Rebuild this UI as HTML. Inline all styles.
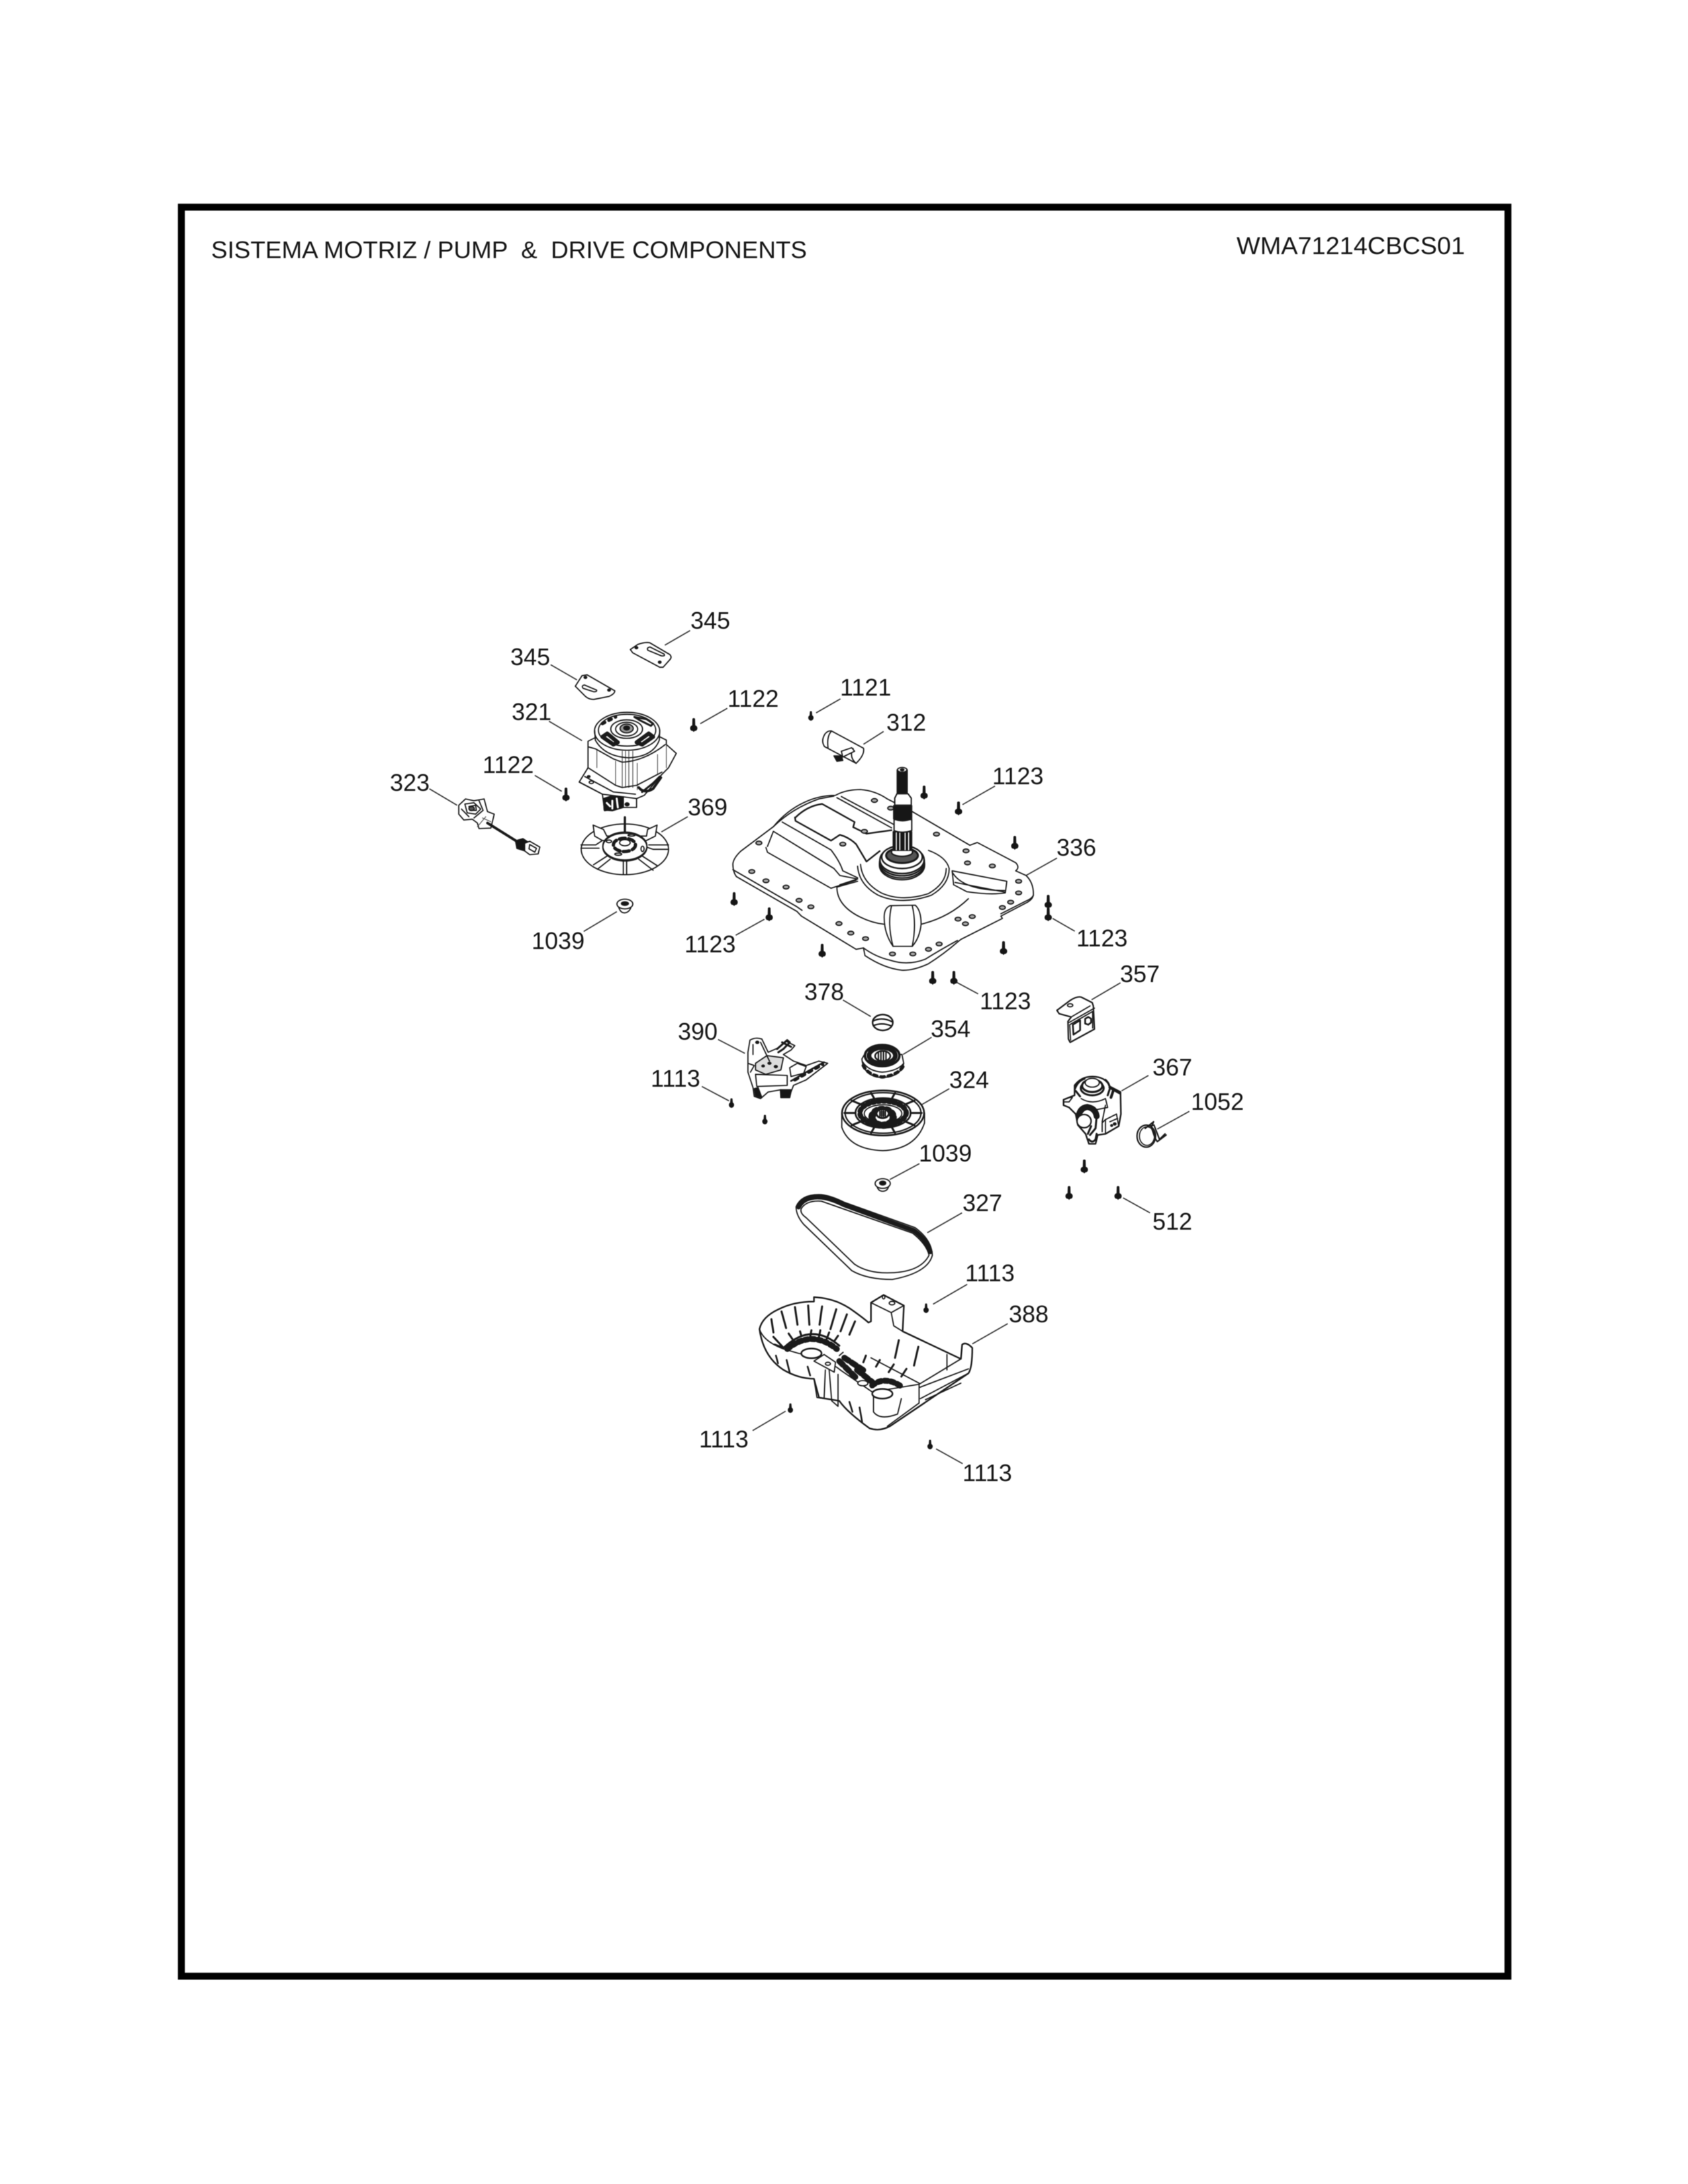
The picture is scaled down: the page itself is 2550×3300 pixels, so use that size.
<!DOCTYPE html>
<html><head><meta charset="utf-8"><style>
html,body{margin:0;padding:0;background:#fff;width:2550px;height:3300px;overflow:hidden}
svg{display:block;filter:blur(.55px)}
svg *{vector-effect:non-scaling-stroke}
text{font-family:"Liberation Sans",Arial,sans-serif;fill:#151515;stroke:none;white-space:pre}
.l text{font-size:36px}
.d path,.d ellipse,.d rect,.d circle,.d polygon{fill:none;stroke:#1a1a1a;stroke-width:1.8;stroke-linejoin:round;stroke-linecap:round}
.d .w{fill:#fff}
.d .k{fill:#161616}
.d .g{fill:#999}
.d .h{stroke-width:3.4}
.d .t{stroke-width:1.1;stroke:#444}
.ld path{fill:none;stroke:#333;stroke-width:1.7}
</style></head><body>
<svg width="2550" height="3300" viewBox="0 0 2550 3300" xmlns="http://www.w3.org/2000/svg">
<defs>
<path id="s" d="M-2,-10 Q0,-12 2,-10 L2.3,0 Q5.5,1 5.5,4.5 Q5.5,8 1.5,8.5 L0,10 L-1.5,8.5 Q-5.5,8 -5.5,4.5 Q-5.5,1 -2.3,0Z" fill="#151515"/>
<path id="ss" d="M-1.5,-7 Q0,-8 1.5,-7 L2,-1 Q4,0 4,2.5 Q4,6 0,7 Q-4,6 -4,2.5 Q-4,0 -2,-1Z" fill="#151515"/>
<ellipse id="ho" rx="10" ry="8" style="fill:#aaa;stroke:#1a1a1a;stroke-width:1.8"/>
</defs>
<rect width="2550" height="3300" fill="#fff"/>
<!-- frame -->
<rect x="274" y="313" width="2004" height="2673" fill="none" stroke="#000" stroke-width="10.5"/>
<text x="319" y="390" font-size="36" textLength="900" lengthAdjust="spacingAndGlyphs">SISTEMA MOTRIZ / PUMP  &amp;  DRIVE COMPONENTS</text>
<text x="1868" y="384" font-size="37.5" textLength="345" lengthAdjust="spacingAndGlyphs">WMA71214CBCS01</text>

<!-- labels -->
<g class="l">
<text x="1043" y="950">345</text><text x="771" y="1005">345</text><text x="773" y="1088">321</text>
<text x="1099" y="1068">1122</text><text x="1269" y="1051">1121</text><text x="729" y="1168">1122</text>
<text x="589" y="1195">323</text><text x="1039" y="1232">369</text><text x="803" y="1434">1039</text>
<text x="1034" y="1439">1123</text><text x="1339" y="1104">312</text><text x="1499" y="1185">1123</text>
<text x="1596" y="1293">336</text><text x="1626" y="1430">1123</text><text x="1480" y="1525">1123</text>
<text x="1692" y="1484">357</text><text x="1215" y="1511">378</text><text x="1406" y="1567">354</text>
<text x="1024" y="1571">390</text><text x="1434" y="1644">324</text><text x="983" y="1642">1113</text>
<text x="1388" y="1755">1039</text><text x="1454" y="1830">327</text><text x="1741" y="1625">367</text>
<text x="1799" y="1677">1052</text><text x="1741" y="1858">512</text><text x="1458" y="1936">1113</text>
<text x="1524" y="1998">388</text><text x="1056" y="2187">1113</text><text x="1454" y="2238">1113</text>
</g>

<!-- screws -->
<g>
<use href="#s" x="1048" y="1096"/><use href="#s" x="855" y="1201"/>
<use href="#s" x="1396" y="1198"/><use href="#s" x="1448" y="1222"/><use href="#s" x="1533" y="1274"/>
<use href="#s" x="1583.5" y="1363"/><use href="#s" x="1583.5" y="1382"/><use href="#s" x="1516" y="1433"/>
<use href="#s" x="1441" y="1478"/><use href="#s" x="1409" y="1478"/><use href="#s" x="1242" y="1437"/>
<use href="#s" x="1162" y="1382"/><use href="#s" x="1109" y="1359"/>
<use href="#s" x="1638" y="1763"/><use href="#s" x="1615" y="1803"/><use href="#s" x="1689" y="1803"/>
<use href="#ss" x="1105" y="1667"/><use href="#ss" x="1155.5" y="1692"/><use href="#ss" x="1399" y="1977"/>
<use href="#ss" x="1194" y="2128"/><use href="#ss" x="1405" y="2183"/><use href="#ss" x="1225" y="1082"/>
</g>

<!-- crop-1 space -->
<g transform="translate(540,880) scale(.5102,.3827)">
<g class="ld"><path d="M985,190 L910,248M572,325 L650,385M567,548 L665,625M1095,497 L1015,558M1430,460 L1358,515M525,762 L605,825M213,815 L295,880M978,925 L900,985M768,1300 L670,1378M1205,1330 L1120,1393"/></g>
<g class="d">
<path class="w" d="M808,265 L830,245 Q850,235 865,238 L925,285 Q932,295 925,305 L905,335 L895,335 L815,278Z"/>
<path d="M866,255 L908,283 Q912,292 900,290 L860,268 Q855,258 866,255Z"/><ellipse cx="826" cy="258" rx="4" ry="4" class="k"/><ellipse cx="895" cy="315" rx="4" ry="4" class="k"/>
<path class="w" d="M645,410 L665,368 L680,365 L762,428 Q762,440 745,450 L700,462 Q685,462 675,450Z"/>
<path d="M672,405 L708,425 Q710,432 700,432 L668,418 Q662,408 672,405Z"/><ellipse cx="675" cy="375" rx="4" ry="4" class="k"/><ellipse cx="745" cy="425" rx="4" ry="4" class="k"/>
<!-- 323 harness -->
<path class="w" d="M300,880 L320,855 L345,862 L375,855 L385,905 L405,915 L395,970 L360,972 L355,950 L340,935 L315,938 L300,915Z"/>
<path d="M318,875 L345,870 L365,895 L350,915 L325,910Z M330,885 L350,880 L352,900 L333,900Z M308,895 L330,925 M360,862 L372,900 L345,930"/>
<path class="t" d="M370,930 L395,945M355,965 L380,925"/>
<ellipse class="g" style="fill:#555" cx="338" cy="893" rx="8" ry="8"/>
<path class="h" style="stroke-width:4" d="M385,950 L475,1025"/>
<path class="k" d="M468,1020 L490,1012 L505,1025 L495,1060 L472,1050Z"/>
<path class="w" d="M495,1030 L510,1022 L540,1045 L535,1072 L510,1075 L495,1060Z"/>
<path d="M510,1035 L530,1050 L525,1065 L508,1052Z"/>
</g>
</g>

<!-- motor + fan + nut -->
<g transform="translate(830,1050) scale(.3333)"><g class="d">
<path class="w" d="M175,210 L205,195 L500,190 L530,205 L530,225 L575,265 L540,330 L510,360 L430,455 L395,470 L395,510 L330,510 L250,525 L240,450 L135,395 L175,330Z"/>
<path class="t" d="M215,250 L215,330M300,300 L300,410M330,255 L330,420M345,255 L345,420M360,255 L360,420M378,255 L378,420M398,310 L398,430M490,270 L490,360M530,225 L530,330"/>
<path d="M175,235 L210,245 L290,290 L330,305 Q430,300 525,225"/>
<path d="M175,330 L300,410 L330,420 L395,410 L510,350"/>
<path d="M135,395 L240,450 L395,470 M160,370 L290,440 L390,450"/>
<ellipse class="k" cx="178" cy="370" rx="6" ry="4"/><ellipse cx="190" cy="396" rx="10" ry="6"/>
<path class="k" d="M245,470 L275,460 L335,462 L335,510 L285,525 L248,522Z"/>
<path style="stroke:#fff;stroke-width:3" d="M285,480 L285,515M305,470 L310,510M260,490 L275,505"/>
<ellipse class="k" cx="352" cy="496" rx="9" ry="7"/>
<path style="stroke-width:4" d="M405,420 Q430,450 470,425 L505,375"/>
<path style="stroke-width:3" d="M420,440 L470,400 L500,370"/>
<ellipse class="w" cx="352" cy="165" rx="148" ry="86"/>
<path d="M205,160 L208,205 Q250,280 360,285 Q470,280 498,205 L500,160"/>
<ellipse cx="352" cy="160" rx="130" ry="72"/>
<ellipse cx="350" cy="155" rx="72" ry="42"/><ellipse cx="350" cy="155" rx="50" ry="31"/>
<ellipse class="g" cx="350" cy="152" rx="30" ry="20"/><ellipse class="k" cx="350" cy="150" rx="13" ry="9"/>
<path style="stroke-width:6" d="M240,190 L262,175 L310,215 L290,225ZM395,215 L450,175 L470,190 L420,225Z"/>
<path style="stroke-width:5;stroke-dasharray:4 7" d="M240,130 L300,100"/>
<path style="stroke-width:3" d="M385,100 L440,110 L470,130 L460,140 L410,115Z"/>
<!-- fan -->
<ellipse class="w" cx="342" cy="700" rx="198" ry="115"/>
<path class="w" d="M198,590 L245,610 L260,640 L440,640 L445,610 L488,590 L480,640 L440,660 L240,660 L205,640Z" style="stroke:#1a1a1a"/>
<path d="M143,680 L210,680 L240,660M143,695 L225,695 M450,680 L540,680M440,690 L470,700 L538,700"/>
<path class="h" d="M342,555 L342,625"/>
<path d="M335,745 L335,812M350,745 L350,812M200,770 L262,730 M218,790 L275,745 M490,775 L420,730M470,795 L405,745"/>
<ellipse class="w" cx="342" cy="685" rx="100" ry="63"/>
<ellipse cx="342" cy="690" rx="100" ry="63"/>
<ellipse class="w" cx="340" cy="680" rx="50" ry="30" style="stroke-width:5;stroke-dasharray:9 5"/>
<ellipse class="w" cx="342" cy="670" rx="24" ry="14"/>
<ellipse cx="270" cy="664" rx="12" ry="6"/><ellipse cx="422" cy="698" rx="7" ry="12"/><ellipse cx="312" cy="722" rx="16" ry="5"/><ellipse cx="372" cy="636" rx="16" ry="4"/>
<!-- nut -->
<path class="w" d="M312,955 Q320,990 342,988 Q365,985 372,955Z"/>
<ellipse class="w" cx="342" cy="948" rx="36" ry="22"/><ellipse class="k" cx="342" cy="946" rx="16" ry="8"/>
</g>
</g>

<!-- plate 336 -->
<g transform="translate(1050,1000) scale(.4464,.3509)">
<g class="ld"><path d="M638,300 L570,355M1015,535 L905,615M1225,845 L1120,920M1285,1160 L1210,1105M958,1430 L885,1380"/></g>
<g class="d">
<!-- capacitor -->
<path class="w" d="M462,298 L570,372 Q575,400 545,437 L438,365 Q425,340 440,310 Q450,295 462,298Z"/>
<path d="M462,298 Q445,320 450,370M535,373 Q520,410 545,437"/>
<path class="w" d="M495,385 L530,370 L540,385 L500,410Z"/>
<path class="k" d="M470,405 L495,405 L500,425 L480,428Z"/>
<!-- plate -->
<path class="w" d="M128,870 Q130,845 155,815 L265,710 Q310,640 370,605 Q420,575 475,575 Q510,550 560,550 Q610,555 650,590 L735,645 L930,790 L955,778 L1085,865 Q1100,885 1085,900 L1120,920 Q1145,950 1145,1000 Q1145,1020 1125,1035 L1035,1095 L1040,1105 L900,1195 L890,1205 Q840,1260 790,1300 Q740,1330 700,1328 Q640,1320 575,1265 L570,1232 L545,1238 L360,1095 L345,1075 L140,925 Q128,905 128,870Z"/>
<path d="M128,895 L345,1055 L362,1070M1145,1005 Q1140,1020 1120,1030 L1035,1085M888,1200 Q830,1240 780,1280 Q720,1310 660,1285 Q610,1270 570,1232"/>
<path d="M245,795 L265,730 L470,890 L490,920 L550,935"/>
<path d="M240,800 L245,820 L460,975 L545,940"/>
<path d="M295,690 L460,810 Q490,860 500,900 L550,930"/>
<path class="h" style="stroke-width:2.4" d="M338,670 L340,685 L460,770 L490,745 Q520,755 545,785 L580,860 L625,815"/>
<path class="h" style="stroke-width:2.4" d="M340,670 Q380,620 430,612 L540,690 L535,712 L580,740 L665,725"/>
<path d="M480,585 L665,715M495,580 L672,700M265,710 Q330,630 420,590 L470,578"/>
<!-- centre dish -->
<path d="M550,880 Q555,960 620,1005 Q700,1050 800,1005 Q860,960 860,890 Q850,840 790,812"/>
<path d="M560,872 Q565,950 630,995 Q700,1035 790,998 Q850,955 850,890"/>
<path d="M480,970 Q480,1050 560,1100 Q600,1125 640,1130M765,1130 Q860,1100 925,1020M480,970 L550,945M490,960 L550,935"/>
<path d="M870,900 L1055,945 L1050,995 Q1000,1005 920,990 L875,960Z M880,950 L1050,992 M870,905 Q905,985 1050,985"/>
<path class="w" d="M640,1100 Q640,1060 660,1050 L745,1048 Q765,1070 765,1130 Q760,1190 735,1225 L670,1225 Q640,1170 640,1100Z"/>
<path d="M665,1050 Q650,1130 670,1225M735,1050 Q750,1130 735,1225"/>
<!-- upper rod -->
<rect class="k" x="684" y="465" width="34" height="125"/>
<ellipse class="w" cx="701" cy="465" rx="16" ry="10"/><ellipse class="k" cx="701" cy="465" rx="6" ry="4"/>
</g>
<g>
<use href="#ho" x="607" y="597"/><use href="#ho" x="662" y="630"/><use href="#ho" x="573" y="730"/><use href="#ho" x="500" y="785"/><use href="#ho" x="817" y="742"/><use href="#ho" x="917" y="814"/><use href="#ho" x="922" y="866"/><use href="#ho" x="1006" y="879"/><use href="#ho" x="1095" y="945"/><use href="#ho" x="1095" y="995"/><use href="#ho" x="1068" y="1035"/><use href="#ho" x="1040" y="1058"/><use href="#ho" x="938" y="1097"/><use href="#ho" x="915" y="1128"/><use href="#ho" x="890" y="1108"/><use href="#ho" x="826" y="1215"/><use href="#ho" x="790" y="1238"/><use href="#ho" x="737" y="1258"/><use href="#ho" x="668" y="1258"/><use href="#ho" x="577" y="1192"/><use href="#ho" x="527" y="1168"/><use href="#ho" x="487" y="1127"/><use href="#ho" x="392" y="1055"/><use href="#ho" x="352" y="1027"/><use href="#ho" x="308" y="970"/><use href="#ho" x="240" y="943"/><use href="#ho" x="192" y="903"/><use href="#ho" x="216" y="780"/>
</g>
</g>

<!-- shaft and rings -->
<g transform="translate(1240,1200) scale(.3333)"><g class="d">
<ellipse class="w" cx="368" cy="322" rx="102" ry="66" style="stroke-width:2.2"/>
<ellipse class="w" cx="368" cy="314" rx="102" ry="66" style="stroke-width:2.2"/>
<ellipse class="w" cx="368" cy="306" rx="101" ry="64" style="stroke-width:2.4"/>
<ellipse class="w" cx="368" cy="298" rx="100" ry="62" style="stroke-width:2.4"/>
<ellipse class="w" cx="368" cy="285" rx="92" ry="52" style="stroke-width:2.4"/>
<ellipse class="g" style="fill:#555;stroke-width:3" cx="368" cy="278" rx="72" ry="34"/>
<ellipse class="w" cx="368" cy="262" rx="48" ry="20" style="stroke-width:2.2"/>
<rect class="k" x="328" y="170" width="84" height="85"/>
<path style="stroke:#fff;stroke-width:1.6" d="M342,175 L342,252M358,175 L358,252M382,175 L382,252M398,175 L398,252"/>
<path class="w" d="M332,115 L412,115 L412,165 Q370,180 332,165Z" style="stroke-width:2"/>
<path class="k" d="M330,52 L412,52 L412,112 Q370,130 330,112Z"/>
<path class="w" d="M335,18 L345,-2 L395,-2 L410,18 L410,50 L335,50Z" style="stroke-width:2"/>
</g></g>

<!-- crop 3 parts -->
<g transform="translate(950,1450) scale(.3827,.3333)">
<g class="ld"><path d="M845,183 L955,258M1195,352 L1082,430M352,362 L458,425M288,575 L395,640M1265,585 L1155,658M1147,925 L1030,997M1315,1148 L1178,1238"/></g>
<g class="d">
<!-- 378 -->
<ellipse cx="1002" cy="285" rx="40" ry="36" style="stroke-width:2.4"/><path style="stroke-width:2.2" d="M965,278 Q1000,258 1040,282M968,298 Q1000,284 1035,300"/>
<!-- 354 -->
<path class="w" d="M920,450 Q925,530 1000,535 Q1075,530 1085,470 L1078,430 L930,430Z"/>
<path d="M922,462 Q945,505 1000,510 Q1060,505 1085,470"/>
<path style="stroke-width:5;stroke-dasharray:5 6" d="M925,480 Q945,525 1000,532 Q1060,525 1082,485"/>
<ellipse class="w" cx="1000" cy="435" rx="68" ry="48" style="stroke-width:3.6"/>
<ellipse cx="1000" cy="435" rx="52" ry="36" style="stroke-width:7;stroke-dasharray:5 3"/>
<ellipse class="w" cx="1002" cy="437" rx="30" ry="23" style="stroke-width:2.5"/>
<path style="stroke-width:2.2" d="M985,420 L985,455M995,417 L995,460M1005,417 L1005,460M1015,420 L1015,455"/>
<!-- 327 belt -->
<path class="w" d="M660,1120 Q680,1065 750,1065 Q790,1065 850,1100 L1130,1215 Q1195,1270 1198,1340 Q1180,1420 1040,1450 Q940,1450 880,1410 L690,1200 Q660,1160 660,1120Z"/>
<path class="w" d="M680,1130 Q700,1090 760,1095 L1120,1240 Q1175,1290 1185,1340 Q1150,1420 1020,1420 Q940,1420 890,1380 L700,1170 Q675,1150 680,1130Z"/>
<path style="stroke-width:7;fill:none" d="M670,1122 Q690,1075 750,1077 Q790,1077 850,1112 L1125,1228 Q1175,1270 1190,1325"/>
<!-- 1039 nut -->
<path class="w" d="M980,1030 Q985,1050 1002,1050 Q1020,1050 1025,1030Z"/>
<ellipse class="w" cx="1002" cy="1015" rx="30" ry="22"/><ellipse class="k" cx="1002" cy="1013" rx="12" ry="9"/>
<!-- 390 -->
<path class="w" d="M470,420 L478,365 Q500,350 525,360 L550,420 L590,400 L620,370 L655,390 L640,410 L610,430 L650,460 L700,480 L750,460 L785,470 L700,545 L650,570 L640,600 L635,625 L600,625 L600,590 L550,600 L520,630 L495,620 L490,580 L470,510Z"/>
<path style="stroke-width:3" d="M585,405 L625,365 L635,375 L610,405 L590,420 M605,375 L640,395"/>
<path style="stroke-width:2.6" d="M640,550 L700,510 L770,465"/>
<path style="stroke-width:5;stroke-dasharray:5 7" d="M655,545 L765,475"/>
<path style="fill:#ddd" d="M500,470 L545,435 L610,445 L600,500 L540,520 L500,500Z"/>
<path class="k" d="M495,585 L510,580 L525,625 L500,620Z M598,590 L640,590 L635,625 L600,625Z"/>
<path class="w" d="M500,520 L625,525 L625,570 L505,575Z"/>
<path class="w" d="M635,490 L665,470 L700,485 L690,515 L640,530Z"/>
<path d="M470,470 L495,480 L480,510 M520,375 L555,460 M490,385 L490,430"/>
<ellipse class="k" cx="507" cy="375" rx="6" ry="5"/><ellipse class="k" cx="555" cy="470" rx="6" ry="4"/><ellipse class="k" cx="580" cy="485" rx="6" ry="5"/><ellipse class="k" cx="530" cy="482" rx="5" ry="4"/>
</g></g>

<!-- 324 pulley -->
<g transform="translate(1240,1580) scale(.3333)"><g class="d">
<path class="w" d="M95,305 L95,370 Q130,470 280,476 Q430,470 470,350 L470,305Z"/>
<ellipse class="w" cx="282" cy="305" rx="186" ry="102" style="stroke-width:2.6"/>
<ellipse cx="282" cy="305" rx="172" ry="92" style="stroke-width:2.2"/>
<path style="stroke-width:3" d="M407,305 L457,305M383,344 L424,361M321,369 L336,395M243,369 L228,395M181,344 L140,361M157,305 L107,305M181,266 L140,249M243,241 L228,215M321,241 L336,215M383,266 L424,249"/>
<ellipse cx="282" cy="305" rx="125" ry="67" style="stroke-width:2.6"/>
<ellipse cx="282" cy="305" rx="105" ry="54" style="stroke-width:8;stroke-dasharray:3 5"/>
<ellipse cx="282" cy="308" rx="85" ry="40"/>
<ellipse cx="280" cy="325" rx="48" ry="36" style="stroke-width:11;stroke-dasharray:3 6"/>
<ellipse class="w" cx="280" cy="308" rx="28" ry="20" style="stroke-width:3"/>
<path style="stroke-width:2.4" d="M268,298 L268,318M276,296 L276,320M284,296 L284,320M292,298 L292,318"/>
</g></g>

<!-- 388 tray -->
<g transform="translate(1000,1750) scale(.3827,.3333)">
<g class="ld"><path d="M1205,572 L1070,662M1365,750 L1225,842M488,1147 L358,1235M1082,1318 L1187,1385"/></g>
<g class="d">
<path class="w" d="M385,775 Q395,720 460,685 Q520,650 600,650 L600,630 Q680,635 740,680 Q790,720 815,745 L825,740 L825,655 L875,620 L955,668 L950,785 L1180,910 L1185,845 Q1200,830 1225,860 Q1225,950 1210,975 L900,1215 Q860,1240 820,1225 Q730,1150 700,1100 L620,1085 L600,1000 Q540,1000 480,960 Q400,900 385,775Z" style="stroke-width:2.4"/>
<path d="M385,775 Q400,830 480,865 L540,885 Q640,900 710,965 L830,1060 L1015,1025 L1180,910"/>
<path d="M825,655 L905,700 L955,668 M905,700 L915,760 L950,785"/>
<path d="M1015,1025 L1015,1110 L890,1215M1015,1040 L1210,955M1020,1090 L1210,975 M1180,1020 L1040,1095"/>
<path d="M1015,1020 L825,905 M700,895 L715,880"/>
<path style="stroke-width:3" d="M432,730 L440,790 M472,695 L490,770 M525,675 L535,755 M577,668 L582,755 M632,672 L622,755 M688,685 L665,775 M730,708 L705,785 M762,740 L740,800"/>
<path style="stroke-width:3" d="M935,825 L920,905 M1012,855 L995,940 M805,895 L795,925 M860,915 L845,945 M915,935 L895,970 M965,955 L945,990"/>
<path style="stroke-width:9;stroke-dasharray:5 5" d="M495,865 Q590,775 690,865"/>
<path style="stroke-width:3" d="M480,860 Q590,740 700,850 M445,845 L480,860 L440,810"/>
<path style="stroke-width:9;stroke-dasharray:8 5" d="M700,920 L770,1000"/>
<path style="stroke-width:9;stroke-dasharray:8 5" d="M720,905 L800,965 M770,960 L830,1015"/>
<path style="stroke-width:9;stroke-dasharray:5 5" d="M830,1030 Q880,985 945,1035"/>
<path style="stroke-width:3" d="M500,795 L515,820 M545,785 L550,805 M590,780 L585,810 M625,780 L620,810 M660,790 L650,820 M695,805 L680,830"/>
<ellipse class="w" cx="590" cy="885" rx="40" ry="22" style="stroke-width:2.5"/>
<ellipse class="w" cx="870" cy="1068" rx="40" ry="22" style="stroke-width:2.5"/>
<ellipse class="w" cx="793" cy="1020" rx="20" ry="12"/>
<path class="w" d="M600,920 L640,890 L685,925 L680,970 Z"/>
<ellipse cx="655" cy="932" rx="10" ry="7"/>
<path d="M600,1000 L612,1085 L640,1090 L645,960 M660,960 L670,1100 L695,1125 L695,980"/>
<path d="M835,1080 L835,1150 Q860,1190 930,1160 L945,1090"/>
<path style="stroke-width:2.6" d="M450,895 L458,930 M492,915 L505,975 M575,945 L585,985 M740,1105 L752,1150 M780,1130 L790,1195"/>
<path d="M1125,890 L1125,960"/>
<ellipse cx="875" cy="630" rx="5" ry="8"/><ellipse cx="908" cy="657" rx="11" ry="8"/>
</g></g>

<!-- 357 / 367 / 1052 -->
<g transform="translate(1500,1400) scale(.3333)">
<g class="ld"><path d="M578,255 L447,332M705,675 L583,745M890,838 L745,918M590,1230 L712,1298"/></g>
<g class="d">
<path class="w" d="M290,380 L350,335 Q380,315 400,320 L450,345 L455,360 L460,465 L350,525 L342,510 L340,430 L355,410 L300,395Z" style="stroke-width:2.2"/>
<path d="M355,410 L440,360M345,435 L460,370M352,515 L348,445 L452,385 L452,460"/>
<ellipse cx="350" cy="357" rx="12" ry="7"/>
<path style="stroke-width:2.6" d="M362,445 L395,425 L395,470 L365,490Z"/>
<polygon style="stroke-width:2.6" points="418,418 432,410 445,418 445,435 432,445 418,440"/>
<!-- pump -->
<path class="w" d="M320,785 L370,765 L370,720 Q400,680 450,680 Q510,680 530,725 L578,750 L580,850 L570,905 L510,940 L475,945 L465,985 L435,985 L420,940 L385,900 L375,850 L345,820 L320,810Z" style="stroke-width:2.4"/>
<path style="stroke-width:3" d="M372,735 Q385,700 415,690 M510,695 Q528,710 530,735 L520,765 M375,745 L395,770"/>
<path style="stroke-width:4" d="M530,730 L575,755 M545,745 L535,775"/>
<path d="M510,875 L560,850 L570,905 L510,940 Z M510,875 L495,890 L495,930 M530,885 L565,870 M345,775 L360,775 L345,795 L320,795"/>
<ellipse class="k" cx="552" cy="895" rx="6" ry="5"/><ellipse class="k" cx="538" cy="902" rx="4" ry="4"/>
<ellipse class="w" cx="450" cy="733" rx="52" ry="32" style="stroke-width:3"/>
<ellipse class="w" cx="450" cy="722" rx="46" ry="28" style="stroke-width:3.2"/>
<ellipse class="w" cx="450" cy="708" rx="32" ry="20"/>
<path d="M400,780 Q450,810 510,780 L520,820 L470,830 M510,810 L495,885"/>
<path style="stroke-width:9" d="M388,860 Q395,822 428,818 Q465,825 470,860"/>
<ellipse class="w" cx="413" cy="882" rx="32" ry="30" style="stroke-width:2.2"/>
<path style="stroke-width:3" d="M470,860 L465,915 L440,945 M445,905 L430,940"/>
<path style="stroke-width:3" d="M435,965 Q450,985 465,965 L470,940"/>
<!-- clip -->
<ellipse cx="695" cy="950" rx="42" ry="50" style="stroke-width:2.2"/>
<ellipse cx="698" cy="950" rx="34" ry="42" style="stroke-width:1.6"/>
<path style="stroke-width:2.2" d="M690,915 L728,885 L718,910 L735,960 L745,975 L785,945 M705,905 L730,900 L755,965 L780,940"/>
</g></g>
</svg>
</body></html>
